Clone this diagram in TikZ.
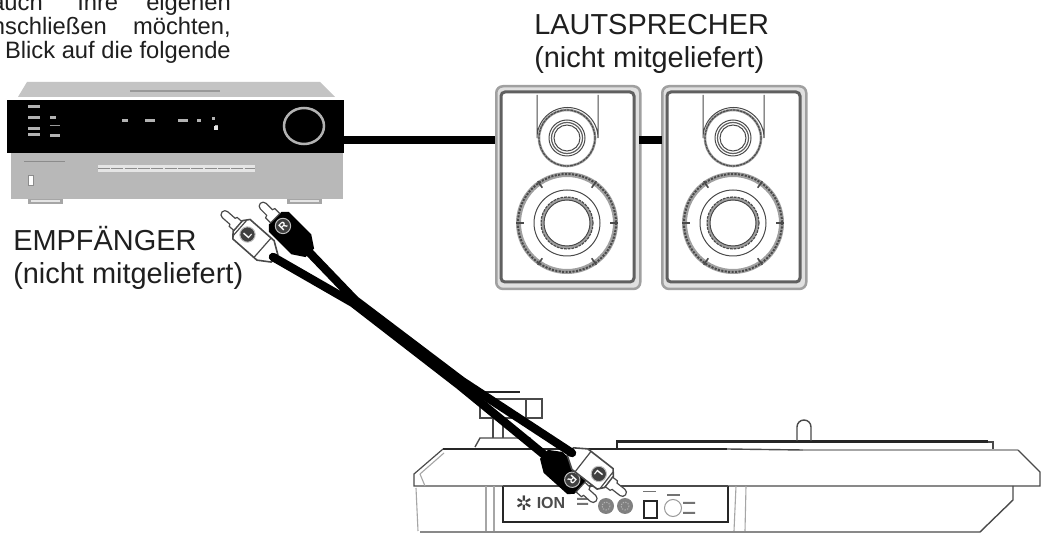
\documentclass[tikz,border=0pt]{standalone}
\usepackage{fontspec}
\setmainfont{Liberation Sans}
\usetikzlibrary{calc}
\definecolor{frontgray}{HTML}{B8B8B8}
\definecolor{topgray}{HTML}{C4C4C4}
\definecolor{spk}{HTML}{606060}
\definecolor{spkl}{HTML}{A0A0A0}
\definecolor{line}{HTML}{4A4A4A}
\tikzset{
  x=0.75pt,y=-0.75pt,
  px/.style={line width=#1*0.75pt},
  lbl/.style={font=\fontsize{21.7}{24}\selectfont,anchor=base west,inner sep=0pt,text=black!88},
  para/.style={font=\fontsize{17.8}{20}\selectfont,inner sep=0pt,text=black!88},
  wire/.style={line width=5.6pt,black},
  rca/.style={px=8.5,black,line cap=round,line join=round},
  tt/.style={px=1.4,line},
  ttb/.style={px=2.8,black!85},
  ttl/.style={px=1.1,black!35},
  smudge/.style={fill=black!55},
}
% speaker: #1 node name, #2 x offset
\newcommand{\speaker}[2]{%
\begin{scope}[shift={(#2,0)}]
  \node[draw=spkl,fill=black!12,px=2.5,rounded corners=5pt,minimum width=108pt,minimum height=152pt,inner sep=0pt,anchor=north west] (#1) at (495,85) {};
  \draw[spk,px=3,fill=white,rounded corners=3pt] (501,92) rectangle (634,282);
  \draw[line,px=1] (537,95) -- (537,138) arc[start angle=180,end angle=360,radius=30.5] -- (598,95);
  \draw[spkl,px=2.6] (567,138) circle[radius=28];
  \draw[line,px=1.2,dash pattern=on 2pt off 0.6pt] (567,138) circle[radius=28];
  \draw[line,px=1] (567,138) circle[radius=18];
  \draw[spk,px=1.2] (567,138) circle[radius=15.5];
  \draw[line,px=1] (567,138) circle[radius=13];
  \draw[spkl,px=5] (567,223) circle[radius=48.5];
  \draw[line,px=2,dash pattern=on 1.6pt off 1pt] (567,223) circle[radius=49];
  \foreach \a in {0,55,125,180,235,305}
    \draw[line,px=1.6] ($(567,223)+(\a:51 and 51)$) -- ($(567,223)+(\a:43 and 43)$);
  \draw[line,px=1] (567,223) circle[radius=33];
  \draw[spkl,px=3] (567,223) circle[radius=24.5];
  \draw[line,px=1.2,dash pattern=on 2pt off 0.8pt] (567,223) circle[radius=26];
  \draw[line,px=1] (567,223) circle[radius=23];
\end{scope}}
% plug: #1 name, #2 x, #3 y, #4 canvas angle, #5 1=black body, #6 letter
\newcommand{\rcaplug}[6]{%
\begin{scope}[shift={(#2,#3)},rotate=#4]
  \coordinate (#1end) at (0,0);
  \ifnum#5=1
    \fill[black] (-4,-6) -- (8,-14) -- (40,-14) -- (45,-9) -- (45,9) -- (40,14) -- (8,14) -- (-4,6) -- cycle;
    \draw[line,px=1.2,fill=white] (45,-6.5) -- (52,-6.5) -- (53,-4) -- (62,-4) arc[start angle=-90,end angle=90,radius=4] -- (53,4) -- (52,6.5) -- (45,6.5) -- cycle;
  \else
    \draw[line,px=1.6,fill=white] (-2,-5) -- (10,-13) -- (42,-13) -- (47,-7) -- (47,7) -- (42,13) -- (10,13) -- (-2,5) -- cycle;
    \draw[line,px=1.2] (14,-13) -- (14,13) (44,-10) -- (44,10);
    \draw[line,px=1.2,fill=white] (47,-6) -- (53,-6) -- (54,-4) -- (64,-4) arc[start angle=-90,end angle=90,radius=4] -- (54,4) -- (53,6) -- (47,6) -- cycle;
  \fi
  \node[circle,fill=black!75,draw=black!25,px=1,inner sep=0pt,minimum size=11.5pt,text=white,font=\fontsize{8}{8}\selectfont\bfseries,rotate=#4-90] (#1) at (34,0) {#6};
\end{scope}}
\begin{document}
\begin{tikzpicture}
\useasboundingbox (0,0) rectangle (1043,534);
\clip (0,0) rectangle (1043,534);
\fill[white] (0,0) rectangle (1043,534);

% top paragraph (cut by the picture's edges)
\node[para,anchor=base east] (p1a) at (43,11) {auch};
\node[para,anchor=base west] (p1b) at (77,11) {Ihre};
\node[para,anchor=base east] (p1c) at (231,11) {eigenen};
\node[para,anchor=base east] (p2a) at (107,35) {nschließen};
\node[para,anchor=base east] (p2b) at (231,35) {möchten,};
\node[para,anchor=base east] (p3) at (231,59) {Blick auf die folgende};

% labels
\node[lbl] (l1) at (534,35) {LAUTSPRECHER};
\node[lbl] (l2) at (534,68) {(nicht mitgeliefert)};
\node[lbl] (l3) at (13,251) {EMPFÄNGER};
\node[lbl] (l4) at (13,284) {(nicht mitgeliefert)};

% receiver
\fill[topgray] (27,82) -- (320,82) -- (335,97) -- (18,97) -- cycle;
\fill[black!40] (130,90) rectangle (220,92);
\node[fill=frontgray,inner sep=0pt,minimum width=249pt,minimum height=34pt,anchor=north west] (front) at (11,153) {};
\node[fill=black,inner sep=0pt,minimum width=252.75pt,minimum height=39.75pt,anchor=north west] (band) at (7,100) {};
\draw[white!70!black,px=2.5] (304,126) ellipse[x radius=20,y radius=18];
\foreach \x/\y/\w in {28/105/12,28/116/12,28/127/12,28/133/12,50/116/6,50/134/10,122/119/6,145/119/10,178/119/10,197/119/4,212/117/3,215/125/3}
  \fill[white!70!black] (\x,\y) rectangle ++(\w,3);
\fill[white!90!black] (214,126) rectangle ++(4,4);
\fill[white!60!black] (50,125) rectangle ++(10,1);
\fill[white] (28,176) rectangle (33,186);
\draw[black!45,px=1] (28,176) rectangle (33,186);
\fill[white!90!black] (98,165) rectangle (255,172);
\draw[black!45,px=1,dash pattern=on 9pt off 1pt] (98,168.5) -- (255,168.5);
\fill[black!45] (24,161) rectangle (65,162);
\foreach \x in {28,287}{
  \fill[black!35] (\x,199) rectangle ++(35,5);
  \fill[white!90!black] (\x+3,200.5) rectangle ++(29,2);
}

% speakers
\speaker{spkA}{0}
\speaker{spkB}{166}

% speaker wires
\coordinate (w1) at (344,140); \coordinate (w2) at (495,140);
\coordinate (w3) at (639,140); \coordinate (w4) at (662,140);
\draw[wire] (w1) -- (w2);
\draw[wire] (w3) -- (w4);

% turntable: tonearm
\draw[ttb] (483,392) -- (520,392);
\draw[tt,px=1.6] (480,418) -- (480,399) -- (542,399) -- (542,418) -- cycle;
\draw[tt] (526,399) -- (526,418);
\draw[tt] (493,418) -- (493,438) (503,418) -- (503,438);
\draw[tt] (475,447) -- (480,438) -- (530,438) -- (535,447);

% turntable: body
\draw[ttb] (617,448) -- (617,441.5) -- (988,441.5);
\draw[tt] (988,442) -- (993,442) -- (993,449);
\draw[tt] (797,441) -- (797,427) arc[start angle=180,end angle=360,radius=7] -- (811,441);
\draw[ttb] (443,449) -- (727,449);
\draw[tt] (727,449) -- (803,450);
\draw[ttl,px=1.5] (803,450) -- (1018,450);
\draw[line,px=1.2] (1018,450) -- (1040,472) -- (1040,486) -- (414,486) -- (414,474) -- (443,449);
\draw[ttl] (420,474) -- (444,453);
\draw[ttl] (420,474) -- (425,486);
\draw[ttl] (416,488) -- (418,531);
\draw[ttl] (486,486) -- (486,531) (494,486) -- (494,531);
\draw[ttl] (736,486) -- (734,531) (746,486) -- (745,531);
\draw[line,px=1.4] (1013,486) -- (1013,500) -- (980,532) -- (420,532);
\draw[ttb] (503,486) -- (503,522) -- (728,522) -- (728,486);
\draw[line,px=1.5] (503,486) -- (728,486);

% panel
\node[font=\fontsize{15}{15}\selectfont,inner sep=0pt,text=black!75] (star) at (524,503) {\fontspec{DejaVu Sans}✲};
\node[font=\fontsize{12}{12}\selectfont\bfseries,inner sep=0pt,text=black!70] (ion) at (551,503) {ION};
\fill[smudge] (577,498) rectangle (588,500) (577,503) rectangle (588,505);
\fill[black!50] (606,506) circle[radius=8];
\fill[black!50] (625,506) circle[radius=8];
\draw[black!30,px=1,dash pattern=on 1pt off 1pt] (606,506) circle[radius=4] (625,506) circle[radius=4];
\fill[smudge] (643,491) rectangle (656,492.5);
\draw[black!85,px=1.8,fill=white] (644,501) rectangle (657,518);
\fill[smudge] (667,494) rectangle (680,496);
\draw[black!40,px=1] (673,508) circle[radius=8.5];
\fill[smudge] (683,502) rectangle (695,504) (683,512) rectangle (695,514);

% cables
\coordinate (j1) at (355,300);
\coordinate (j1b) at (353,303);
\coordinate (j2) at (462,381);
\coordinate (j2b) at (459,385);
\rcaplug{tL}{273}{257}{138.6}{0}{L}
\rcaplug{tR}{307}{250}{135}{1}{R}
\rcaplug{bR}{547}{457}{-42}{1}{R}
\rcaplug{bL}{572}{453}{-38}{0}{L}
\draw[rca] (tLend) -- (j1b) -- (j2b) -- (bRend);
\draw[rca] (tRend) -- (j1) -- (j2) -- (bLend);
\end{tikzpicture}
\end{document}
